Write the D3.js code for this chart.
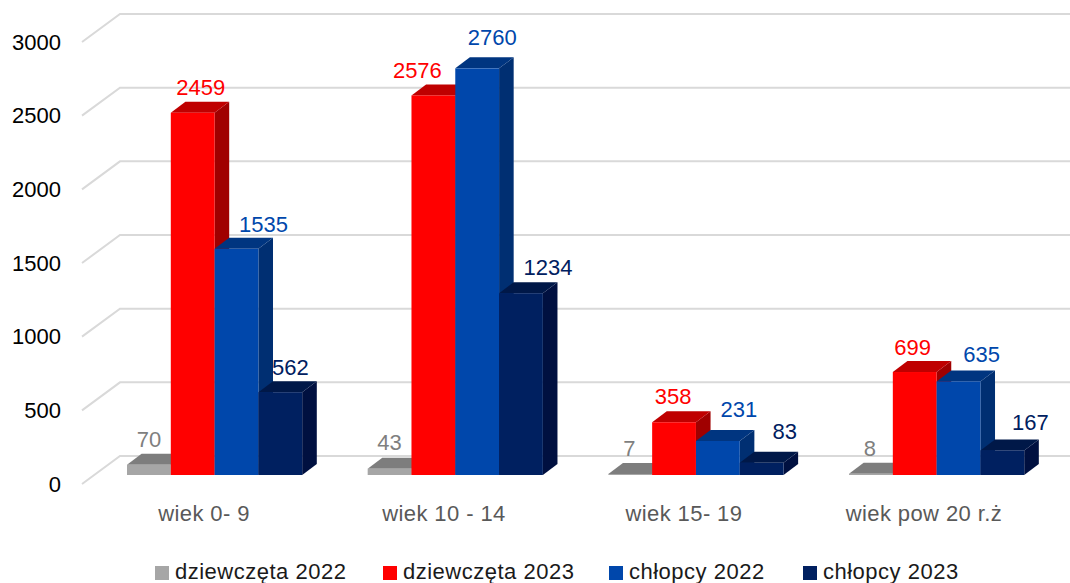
<!DOCTYPE html>
<html><head><meta charset="utf-8">
<script src="https://cdn.jsdelivr.net/npm/d3@7"></script>
<style>html,body{margin:0;padding:0;background:#fff}svg{display:block}text{font-family:"Liberation Sans",Arial,sans-serif}</style>
</head><body><svg id="c" width="1070" height="583"></svg>
<script>
const categories=["wiek 0- 9","wiek 10 - 14","wiek 15- 19","wiek pow 20 r.ż"];
const seriesNames=["dziewczęta 2022","dziewczęta 2023","chłopcy 2022","chłopcy 2023"];
const dziewczeta2022=[70,43,7,8];
const dziewczeta2023=[2459,2576,358,699];
const chlopcy2022=[1535,2760,231,635];
const chlopcy2023=[562,1234,83,167];
const seriesValues=[dziewczeta2022,dziewczeta2023,chlopcy2022,chlopcy2023];
const yTicks=[0,500,1000,1500,2000,2500,3000];
const frontColors=["#a6a6a6","#ff0000","#0047ab","#002060"];
const topColors=["#7d7d7d","#bf0000","#003580","#001848"];
const sideColors=["#6f6f6f","#a00000","#002f72","#001040"];
const labelColors=["#7f7f7f","#ff0000","#0047ab","#002060"];
// hand placement of the data labels relative to bar centre / top
const labelDx=[[0,8,27,10],[0,-16,15,27],[-1,-1,21,23],[-1,-2,23,28]];
const labelDy=[[-18,-18,-17,-17],[-19,-17,-23,-18],[-18,-18,-24,-24],[-18,-17,-19.5,-20]];

const svg=d3.select("#c");
const depthX=14.6, depthY=11, gridDepthX=38, gridDepthY=28;
const y=d3.scaleLinear().domain([0,3000]).range([475,33]);
const x0=d3.scaleBand().domain(categories).range([127,1089.7]).paddingInner(0).paddingOuter(0);
const barW=43.8;
const x1=d3.scaleBand().domain(d3.range(4)).range([0,barW*4]);
const gridFrontX=82, gridBackX=gridFrontX+gridDepthX, gridRight=1070;
const gy=v=>y(v)+9;

const grid=svg.append("g").attr("fill","none").attr("stroke","#d9d9d9").attr("stroke-width",2);
yTicks.forEach(t=>{
  grid.append("path").attr("d",d3.line()([[gridFrontX,gy(t)],[gridBackX,gy(t)-gridDepthY],[gridRight,gy(t)-gridDepthY]]));
});

const axis=d3.axisLeft(d3.scaleLinear().domain([0,3000]).range([gy(0),gy(3000)])).tickValues(yTicks).tickSize(0).tickPadding(0).tickFormat(d3.format("d"));
const ag=svg.append("g").attr("transform","translate(61,0)").call(axis);
ag.select(".domain").remove();
ag.selectAll("text").attr("font-size",22).attr("fill","#000").style("font-family",'"Liberation Sans",Arial,sans-serif');

categories.forEach((c,ci)=>{
  const g=svg.append("g");
  seriesValues.forEach((vals,si)=>{
    const v=vals[ci], l=x0(c)+x1(si), w=x1.bandwidth(), t=y(v), b=y(0);
    g.append("path").attr("fill",sideColors[si]).attr("d",d3.line()([[l+w,t],[l+w+depthX,t-depthY],[l+w+depthX,b-depthY],[l+w,b]])+"Z");
    g.append("path").attr("fill",topColors[si]).attr("d",d3.line()([[l,t],[l+depthX,t-depthY],[l+w+depthX,t-depthY],[l+w,t]])+"Z");
    g.append("rect").attr("x",l).attr("y",t).attr("width",w).attr("height",b-t).attr("fill",frontColors[si]);
  });
});
categories.forEach((c,ci)=>{
  seriesValues.forEach((vals,si)=>{
    const v=vals[ci];
    svg.append("text").text(v).attr("x",x0(c)+x1(si)+x1.bandwidth()/2+labelDx[ci][si]).attr("y",y(v)+labelDy[ci][si])
      .attr("text-anchor","middle").attr("font-size",22).attr("fill",labelColors[si]);
  });
  svg.append("text").text(c).attr("x",x0(c)+77-ci*0.7).attr("y",521).attr("text-anchor","middle").attr("font-size",22).attr("letter-spacing",0.4).attr("fill","#595959");
});

const legendSquareX=[155,383,609,803];
seriesNames.forEach((n,i)=>{
  svg.append("rect").attr("x",legendSquareX[i]).attr("y",566).attr("width",14).attr("height",14).attr("fill",frontColors[i]);
  svg.append("text").text(n).attr("x",legendSquareX[i]+20).attr("y",579).attr("font-size",22).attr("letter-spacing",0.5).attr("fill","#1a1a1a");
});
</script></body></html>
